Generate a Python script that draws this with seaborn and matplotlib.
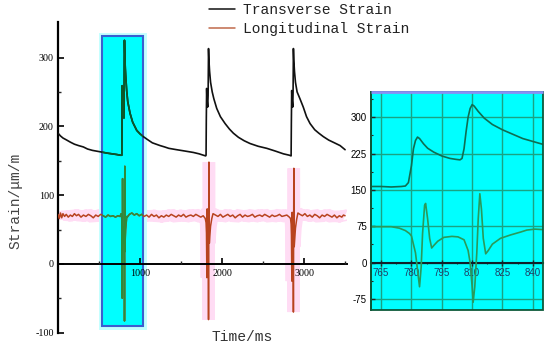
import matplotlib
matplotlib.use("Agg")
import matplotlib.pyplot as plt
from matplotlib.patches import Rectangle
from matplotlib.lines import Line2D
from matplotlib.font_manager import FontProperties
import seaborn as sns
import numpy as np

sns.set_style("white")
plt.rcParams['font.family'] = ['Liberation Serif', 'DejaVu Sans']
plt.rcParams['axes.unicode_minus'] = False

# ---------------- data (main chart) ----------------
trans_time = [0, 30, 60, 106, 150, 200, 250, 309, 360, 420, 512, 600, 716, 760, 778,
              780, 781, 783, 787, 795, 804, 806, 808, 810, 813, 816, 820, 825, 837, 850,
              878, 910, 960, 1000, 1040, 1100, 1150, 1244, 1300, 1350, 1447, 1550, 1650,
              1720, 1772, 1800, 1805, 1808, 1812, 1816, 1825, 1830, 1835, 1840, 1848,
              1860, 1880, 1900, 1935, 1980, 2037, 2090, 2138, 2200, 2270, 2341, 2440,
              2545, 2650, 2748, 2820, 2842, 2845, 2849, 2853, 2862, 2866, 2870, 2875,
              2883, 2895, 2915, 2950, 2990, 3030, 3073, 3130, 3180, 3235, 3300, 3370,
              3439, 3500]
trans_val = [190, 186, 183, 180, 177, 174, 172, 170, 167, 165, 163, 161, 159, 158, 158,
             200, 235, 259, 236, 220, 212, 235, 300, 325, 312, 298, 285, 274, 252, 236,
             219, 206, 194, 189, 185, 180, 176, 172, 170, 168, 166, 164, 162,
             160, 158, 157, 158, 210, 255, 240, 228, 245, 313, 296, 280,
             264, 250, 240, 226, 214, 204, 196, 190, 184, 179, 175, 171,
             168, 164, 160, 158, 157, 205, 252, 240, 228, 250, 313, 296,
             280, 264, 250, 240, 228, 214, 204, 195, 190, 185, 180, 176,
             172, 166]

long_time = [0, 15, 30, 45, 60, 80, 100, 125, 150, 175, 200, 225, 250, 280, 310, 340,
             370, 400, 430, 460, 490, 520, 550, 580, 610, 640, 670, 700, 730, 755, 770,
             774, 777, 779, 780, 782, 783, 784, 784.8, 785.5, 786.5, 787, 788, 789, 790,
             791, 793, 796, 800, 803, 806, 808, 809, 810, 810.5, 811.3, 812.3, 813,
             813.8, 814.6, 815.5, 816.7, 818, 820, 824, 829, 834, 837, 841, 845, 870,
             900, 930, 960, 990, 1020, 1050, 1080, 1110, 1140, 1170, 1200, 1230, 1260,
             1290, 1320, 1350, 1380, 1410, 1440, 1470, 1500, 1530, 1560, 1590, 1620,
             1650, 1680, 1710, 1740, 1770, 1795,
             1805, 1810, 1813, 1815, 1817, 1819, 1821, 1824, 1828, 1832, 1834, 1835,
             1836, 1838, 1840, 1842, 1845, 1850, 1860, 1875, 1890, 1920, 1950, 1980,
             2010, 2040, 2070, 2100, 2130, 2160, 2190, 2220, 2250, 2280, 2310, 2340,
             2370, 2400, 2430, 2460, 2490, 2520, 2550, 2580, 2610, 2640, 2670, 2700,
             2730, 2760, 2790, 2820, 2835,
             2842, 2846, 2849, 2851, 2853, 2855, 2857, 2860, 2864, 2867, 2869, 2870,
             2871, 2873, 2875, 2877, 2880, 2886, 2895, 2910, 2925, 2950, 2980, 3010,
             3040, 3070, 3100, 3130, 3160, 3190, 3220, 3250, 3280, 3310, 3340, 3370,
             3400, 3430, 3460, 3480, 3500]
long_val = [72, 66, 74, 67, 73, 69, 72, 68, 71, 69, 73, 70, 72, 68, 71, 69,
            72, 70, 67, 71, 69, 72, 70, 68, 71, 69, 70, 68, 70, 69, 73,
            71, 66, 60, 55, 20, -15, -50, -10, 60, 118, 124, 90, 50, 30,
            35, 44, 52, 54, 53, 47, 25, 0, -50, -83, -50, 20, 90,
            142, 110, 50, 18, 25, 38, 50, 57, 63, 67, 69, 68, 72,
            74, 71, 73, 70, 72, 69, 71, 68, 72, 69, 71, 67, 70,
            68, 71, 69, 72, 70, 68, 71, 69, 72, 68, 70, 71,
            69, 72, 70, 68, 70, 66,
            60, 45, 10, -20, 30, 80, 40, 32, 38, 30, -40, -81,
            -30, 60, 148, 80, 30, 40, 55, 66, 73, 71, 69, 72,
            68, 70, 72, 69, 71, 67, 70, 72, 68, 71, 69, 70,
            72, 68, 70, 71, 69, 72, 70, 68, 71, 69, 70, 72,
            69, 70, 71, 68, 66,
            58, 42, 5, -25, 25, 75, 40, 30, 36, 25, -30, -70,
            -20, 60, 139, 70, 25, 35, 52, 65, 74, 72, 70, 73,
            69, 71, 68, 72, 70, 67, 71, 69, 72, 70, 68, 71,
            67, 70, 68, 71, 70]

# ---------------- data (zoomed inset) ----------------
zt_time = [760, 765, 770, 775, 777, 778.5, 780, 781, 782, 783, 784, 786, 788, 791, 795,
           799, 802, 804, 805, 806, 807, 808, 809, 810, 811, 813, 816, 820, 825, 830,
           835, 840, 845]
zt_val = [157, 157, 156, 157, 158, 165, 200, 235, 252, 259, 256, 245, 236, 228, 220,
          215, 213, 212, 215, 235, 270, 300, 318, 326, 323, 312, 298, 285, 274, 265,
          256, 250, 244]
zl_time = [760, 765, 770, 774, 777, 779, 780, 782, 783, 784, 784.8, 785.5, 786.5, 787,
           788, 789, 790, 791, 793, 796, 800, 803, 806, 808, 809, 810, 810.5, 811.3,
           812.3, 813, 813.8, 814.6, 815.5, 816.7, 818, 820, 824, 829, 834, 837, 841,
           845]
zl_val = [74, 74, 74, 71, 66, 60, 55, 20, -15, -50, -10, 60, 118, 122,
          90, 50, 30, 35, 44, 52, 54, 53, 47, 25, 0, -50, -82, -50,
          20, 90, 142, 110, 50, 18, 25, 38, 50, 57, 63, 67, 69,
          68]

main_yticks = [-100, 0, 100, 200, 300]
main_xticks = [1000, 2000, 3000]
zoom_xticks = [765, 780, 795, 810, 825, 840]
zoom_yticks = [-75, 0, 75, 150, 225, 300]

C_TRANS = '#111111'
C_LONG = '#b8431f'

fig = plt.figure(figsize=(5.5, 3.49), dpi=100)

# ---------------- main axes ----------------
ax = fig.add_axes([0.1055, 0.0467, 0.5249, 0.891])
ax.set_xlim(0, 3520)
ax.set_ylim(-100, 352)

# pink halo under the longitudinal curve
sns.lineplot(x=long_time, y=long_val, ax=ax, color='#ffdcf4', lw=9,
             sort=False, zorder=1, solid_capstyle='butt', solid_joinstyle='bevel')

# highlighted zoom window
halo = Rectangle((533, -90.4), 500, 422.4, facecolor='none', edgecolor='#c4ffff',
                 lw=5, zorder=1.9)
ax.add_patch(halo)
box = Rectangle((533, -90.4), 500, 422.4, facecolor='#00ffff', edgecolor='#3a5fd0',
                lw=1.5, zorder=2)
ax.add_patch(box)

sns.lineplot(x=long_time, y=long_val, ax=ax, color=C_LONG, lw=1.1, sort=False, zorder=3)
sns.lineplot(x=trans_time, y=trans_val, ax=ax, color=C_TRANS, lw=1.2, sort=False, zorder=3)

# inside the window the curves show in green
sns.lineplot(x=long_time, y=long_val, ax=ax, color='#2e8b3a', lw=1.1, sort=False, zorder=4)
ax.lines[-1].set_clip_path(box)
sns.lineplot(x=trans_time, y=trans_val, ax=ax, color='#0b5a2a', lw=1.2, sort=False, zorder=4)
ax.lines[-1].set_clip_path(box)

ax.set_xlabel('')
ax.set_ylabel('')
ax.spines['top'].set_visible(False)
ax.spines['right'].set_visible(False)
ax.spines['left'].set_linewidth(1.6)
ax.spines['left'].set_color('black')
ax.spines['bottom'].set_position(('data', 0))
ax.spines['bottom'].set_linewidth(1.4)
ax.spines['bottom'].set_color('black')
ax.spines['bottom'].set_zorder(5)
ax.xaxis.set_zorder(6)
ax.yaxis.set_zorder(6)

ax.set_yticks(main_yticks)
ax.set_yticklabels([str(v) for v in main_yticks])
ax.set_yticks([-50, 50, 150, 250], minor=True)
ax.set_xticks(main_xticks)
ax.set_xticklabels([str(v) for v in main_xticks])
ax.set_xticks([500, 1500, 2500, 3500], minor=True)
ax.tick_params(axis='both', which='major', direction='in', length=4, width=1.2,
               labelsize=7.2, colors='black', left=True, bottom=True)
ax.tick_params(axis='both', which='minor', direction='in', length=2.5, width=1.0,
               left=True, bottom=True)
ax.tick_params(axis='y', pad=3)
ax.tick_params(axis='x', pad=4)
ax.grid(False)

fig.text(15 / 550, 1 - 201 / 349, 'Strain/μm/m', rotation=90, ha='center', va='center',
         fontsize=10.5, color='#444444', family=['Liberation Mono', 'DejaVu Sans Mono'])
fig.text(242.5 / 550, 1 - 337 / 349, 'Time/ms', ha='center', va='center',
         fontsize=10.5, color='#333333', family=['Liberation Mono', 'DejaVu Sans Mono'])

handles = [Line2D([], [], color=C_TRANS, lw=1.1), Line2D([], [], color='#c06a4a', lw=1.1)]
fig.legend(handles, ['Transverse Strain', 'Longitudinal Strain'], loc='upper left',
           bbox_to_anchor=(209 / 550, 1 - 3 / 349), frameon=False,
           prop=FontProperties(family=['Liberation Mono'], size=10.5),
           handlelength=1.8, handletextpad=0.5, labelspacing=0.35,
           borderpad=0, borderaxespad=0, labelcolor='#222222')

# ---------------- zoomed inset ----------------
axi = fig.add_axes([0.6745, 0.1117, 0.3127, 0.6246])
axi.set_facecolor('#00ffff')
axi.set_xlim(760, 845)
axi.set_ylim(-98, 352)
sns.lineplot(x=zt_time, y=zt_val, ax=axi, color='#0f6e52', lw=1.2, sort=False, zorder=3)
sns.lineplot(x=zl_time, y=zl_val, ax=axi, color='#2a9a5a', lw=1.2, sort=False, zorder=3)
axi.set_xlabel('')
axi.set_ylabel('')
axi.set_xticks(zoom_xticks)
axi.set_xticklabels([str(v) for v in zoom_xticks])
axi.set_yticks(zoom_yticks)
axi.set_yticklabels([str(v) for v in zoom_yticks])
axi.set_xticks(np.arange(772.5, 845, 15), minor=True)
axi.set_yticks(np.arange(-37.5, 340, 75), minor=True)
axi.grid(True, which='major', color='#1aa383', lw=1.0)
axi.set_axisbelow(True)
for s in ['top', 'right']:
    axi.spines[s].set_visible(False)
axi.spines['left'].set_color('#0d3b2a')
axi.spines['left'].set_linewidth(1.3)
axi.spines['bottom'].set_position(('data', 0))
axi.spines['bottom'].set_color('#10202a')
axi.spines['bottom'].set_linewidth(1.5)
axi.add_patch(Rectangle((0, 0), 1, 1, transform=axi.transAxes, fill=False,
                        edgecolor='#0d5a3a', lw=1.3, clip_on=False, zorder=5))
axi.add_line(Line2D([0, 1], [1, 1], transform=axi.transAxes, color='#8a8ff5', lw=2.0,
                    clip_on=False, zorder=6, solid_capstyle='butt'))
axi.tick_params(axis='x', which='major', direction='inout', length=4, width=1.0,
                labelsize=7, labelcolor='#1f3f66', pad=2, bottom=True)
axi.tick_params(axis='x', which='minor', direction='inout', length=2, width=0.8, bottom=True)
axi.tick_params(axis='y', which='major', direction='in', length=3, width=1.0,
                labelsize=7, labelcolor='black', pad=3, left=True)
axi.tick_params(axis='y', which='minor', direction='in', length=1.5, width=0.8, left=True)
for lbl in axi.get_xticklabels() + axi.get_yticklabels():
    lbl.set_family(['Liberation Sans Narrow', 'Liberation Sans', 'DejaVu Sans'])

fig.savefig('out.png', dpi=100)
